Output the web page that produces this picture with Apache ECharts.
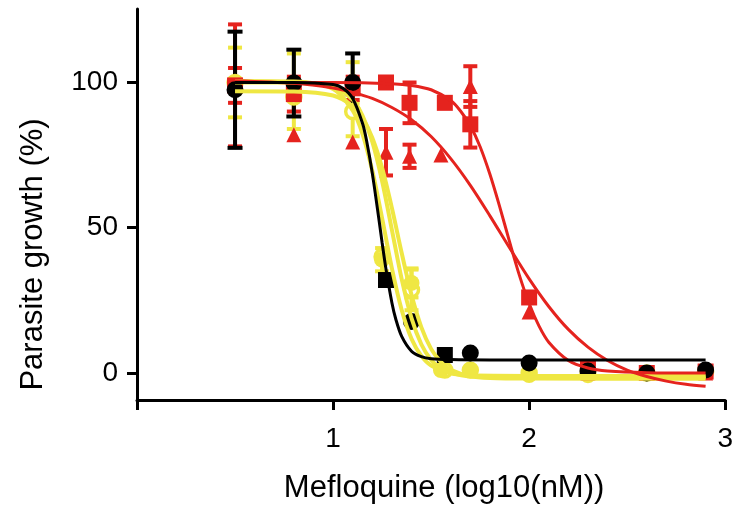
<!DOCTYPE html>
<html>
<head>
<meta charset="utf-8">
<script src="https://cdn.jsdelivr.net/npm/echarts@6/dist/echarts.min.js"></script>
<style>html,body{margin:0;padding:0;background:#fff}#c{width:736px;height:509px}</style>
</head>
<body>
<div id="c"></div>
<script>
// ---- tick labels ----
const xTickValues = [0, 1, 2, 3];
const yTickValues = [0, 50, 100];

// ---- black strain ----
const blackCircleX = [0.5, 0.8, 1.1, 1.4, 1.7, 2.0, 2.3, 2.6, 2.9];
const blackCircleY = [97.5, 99.8, 100, 17.7, 6.9, 3.4, 0.7, 0, 1];
const blackCircleErr = [20, 11.5, 10, 0, 0, 0, 0, 0, 0];
const blackSquareX = [1.27, 1.57];
const blackSquareY = [32, 6.2];
const blackSquareErr = [2, 2];
const blackFitX = [0.5, 0.8, 1.0, 1.05, 1.1, 1.15, 1.17, 1.2, 1.235, 1.25, 1.27, 1.3, 1.32, 1.35, 1.4, 1.45, 1.5, 1.6, 1.8, 2.9];
const blackFitY = [100, 100, 99.3, 98.0, 94.5, 86.0, 80.3, 68.8, 52.3, 44.9, 35.7, 24.2, 18.5, 12.6, 7.5, 5.6, 4.9, 4.6, 4.5, 4.5];

// ---- red strains ----
const redSquareX = [0.5, 0.8, 1.1, 1.27, 1.39, 1.57, 1.7, 2.0, 2.3, 2.6, 2.9];
const redSquareY = [99, 96, 98, 100, 93, 93, 85.6, 26, 1.5, 0, 0.5];
const redSquareErr = [6, 6, 4, 0, 7, 0, 8, 1.5, 0, 0, 0];
const redTriX = [0.5, 0.8, 1.1, 1.27, 1.39, 1.55, 1.7, 2.0, 2.3, 2.6, 2.9];
const redTriY = [99, 82, 79.5, 76, 74.6, 75, 98.6, 21, 0, 0, 0];
const redTriErr = [21, 0, 0, 8, 4, 0, 7, 0, 0, 0, 0];
const redFitAX = [0.5, 1.0, 1.3, 1.4, 1.5, 1.6, 1.65, 1.7, 1.75, 1.8, 1.85, 1.9, 1.95, 2.0, 2.05, 2.1, 2.2, 2.3, 2.4, 2.6, 2.9];
const redFitAY = [100, 100, 99.6, 99.0, 97.5, 93.8, 90.2, 85.1, 77.9, 68.4, 57.2, 45.2, 33.7, 23.9, 16.2, 10.6, 4.3, 1.7, 0.65, 0.1, 0];
const redFitBX = [0.5, 0.8, 1.0, 1.1, 1.2, 1.3, 1.4, 1.5, 1.6, 1.7, 1.8, 1.9, 2.0, 2.1, 2.2, 2.3, 2.4, 2.5, 2.6, 2.7, 2.8, 2.9];
const redFitBY = [100.6, 99.7, 98.1, 96.6, 94.5, 91.4, 87.2, 81.4, 73.8, 64.6, 54.1, 43.1, 32.4, 22.9, 15.0, 8.9, 4.3, 1.0, -1.2, -2.8, -3.9, -4.6];

// ---- yellow strains ----
const yellowFillX = [0.5, 0.8, 1.1, 1.25, 1.4, 1.55, 1.7, 2.0, 2.3, 2.6, 2.9];
const yellowFillY = [100, 97, 100, 39, 31, 1, 1, -0.7, 0, 0, 1];
const yellowFillErr = [12, 13, 7, 4, 5, 0, 0, 0, 0, 0, 0];
const yellowOpenX = [0.5, 0.8, 1.1, 1.25, 1.4, 1.57, 1.7, 2.0, 2.3, 2.6, 2.9];
const yellowOpenY = [100, 95, 90, 40, 28.6, 1, 1, 0, -0.5, 0, 0.5];
const yellowOpenErr = [0, 0, 8.5, 0, 7, 0, 0, 0, 0, 0, 0];
const yellowFit1X = [0.5, 0.8, 1.0, 1.1, 1.15, 1.2, 1.25, 1.3, 1.35, 1.4, 1.45, 1.5, 1.6, 1.7, 2.0, 2.9];
const yellowFit1Y = [100.5, 100.3, 97.8, 90.4, 82.3, 69.6, 53.3, 36.0, 21.7, 11.8, 5.9, 2.6, -0.1, -0.8, -1, -1];
const yellowFit2X = [0.5, 0.8, 1.0, 1.1, 1.15, 1.2, 1.25, 1.3, 1.35, 1.4, 1.45, 1.5, 1.55, 1.6, 1.7, 2.0, 2.9];
const yellowFit2Y = [100, 100, 98.4, 94, 88.6, 79.6, 66.1, 49.3, 32.3, 18.9, 9.9, 4.5, 1.6, 0.1, -1.1, -1.5, -1.5];
const yellowFit3X = [0.5, 0.8, 1.0, 1.1, 1.15, 1.2, 1.25, 1.3, 1.35, 1.4, 1.45, 1.5, 1.55, 1.6, 1.7, 1.8, 2.0, 2.9];
const yellowFit3Y = [97, 96.9, 95.5, 91.9, 87.8, 81.0, 70.6, 56.8, 41.3, 26.9, 15.8, 8.3, 3.8, 1.1, -1.1, -1.7, -1.9, -2];

const RED = '#E5231E', YEL = '#EFE743', BLK = '#000000';
const FONT = '"Liberation Sans", Arial, Helvetica, sans-serif';

const zip = (xs, ys) => xs.map((x, i) => [x, ys[i]]);
const errData = (xs, ys, es) => xs.map((x, i) => [x, ys[i] - es[i], ys[i] + es[i], es[i]]).filter(d => d[3] > 0);

function errSeries(xs, ys, es, color, capW, lw) {
  return {
    type: 'custom', silent: true, clip: false,
    data: errData(xs, ys, es),
    encode: { x: 0, y: [1, 2] },
    renderItem: function (params, api) {
      const x = api.value(0);
      const lo = api.coord([x, api.value(1)]);
      const hi = api.coord([x, api.value(2)]);
      const h = capW / 2;
      const st = { stroke: color, lineWidth: lw };
      return {
        type: 'group',
        children: [
          { type: 'line', shape: { x1: lo[0], y1: lo[1], x2: hi[0], y2: hi[1] }, style: st },
          { type: 'line', shape: { x1: lo[0] - h, y1: lo[1], x2: lo[0] + h, y2: lo[1] }, style: st },
          { type: 'line', shape: { x1: hi[0] - h, y1: hi[1], x2: hi[0] + h, y2: hi[1] }, style: st }
        ]
      };
    }
  };
}
function fitSeries(xs, ys, color, w) {
  return { type: 'line', data: zip(xs, ys), showSymbol: false, smooth: 0.3, silent: true,
    lineStyle: { color: color, width: w, opacity: 1 }, itemStyle: { color: color } };
}
function dotSeries(xs, ys, symbol, size, style) {
  return { type: 'scatter', data: zip(xs, ys), symbol: symbol, symbolSize: size, silent: true,
    itemStyle: Object.assign({ opacity: 1 }, style) };
}

const chart = echarts.init(document.getElementById('c'), null, { renderer: 'canvas' });
chart.setOption({
  animation: false,
  backgroundColor: '#ffffff',
  grid: { left: 137, right: 8.5, top: 9, bottom: 107 },
  xAxis: {
    type: 'value', min: 0, max: 3, interval: 1,
    name: 'Mefloquine (log10(nM))', nameLocation: 'middle', nameGap: 73,
    nameTextStyle: { fontFamily: FONT, fontSize: 31, color: '#000', padding: [0, 0, 0, 26] },
    axisLine: { show: true, onZero: false, lineStyle: { color: BLK, width: 3 } },
    axisTick: { show: true, length: 10, lineStyle: { color: BLK, width: 3 } },
    axisLabel: { fontFamily: FONT, fontSize: 28, color: '#000', margin: 25,
      formatter: v => (v === 0 ? '' : String(v)) },
    splitLine: { show: false }
  },
  yAxis: {
    type: 'value', min: -9.3, max: 125.3,
    name: 'Parasite growth (%)', nameLocation: 'middle', nameGap: 88,
    nameTextStyle: { fontFamily: FONT, fontSize: 31, color: '#000', padding: [0, 100, 0, 0] },
    axisLine: { show: true, onZero: false, lineStyle: { color: BLK, width: 3 } },
    axisTick: { show: true, length: 10, customValues: yTickValues, lineStyle: { color: BLK, width: 3 } },
    axisLabel: { fontFamily: FONT, fontSize: 28, color: '#000', margin: 19, customValues: yTickValues },
    splitLine: { show: false }
  },
  series: [
    fitSeries(yellowFit1X, yellowFit1Y, YEL, 4),
    fitSeries(yellowFit2X, yellowFit2Y, YEL, 4),
    fitSeries(yellowFit3X, yellowFit3Y, YEL, 4),
    errSeries(yellowFillX, yellowFillY, yellowFillErr, YEL, 14, 4),
    errSeries(yellowOpenX, yellowOpenY, yellowOpenErr, YEL, 14, 4),
    dotSeries(yellowOpenX, yellowOpenY, 'circle', 14, { color: '#ffffff', borderColor: YEL, borderWidth: 3.5 }),
    dotSeries(yellowFillX, yellowFillY, 'circle', 16, { color: YEL }),
    fitSeries(redFitAX, redFitAY, RED, 3),
    fitSeries(redFitBX, redFitBY, RED, 3),
    errSeries(redSquareX, redSquareY, redSquareErr, RED, 14, 4),
    errSeries(redTriX, redTriY, redTriErr, RED, 14, 4),
    dotSeries(redSquareX, redSquareY, 'rect', 16, { color: RED }),
    dotSeries(redTriX, redTriY, 'triangle', 15, { color: RED }),
    fitSeries(blackFitX, blackFitY, BLK, 3),
    errSeries(blackCircleX, blackCircleY, blackCircleErr, BLK, 15, 4),
    errSeries(blackSquareX, blackSquareY, blackSquareErr, BLK, 14, 3),
    dotSeries(blackSquareX, blackSquareY, 'rect', 16, { color: BLK }),
    dotSeries(blackCircleX, blackCircleY, 'circle', 17, { color: BLK })
  ]
});
</script>
</body>
</html>
